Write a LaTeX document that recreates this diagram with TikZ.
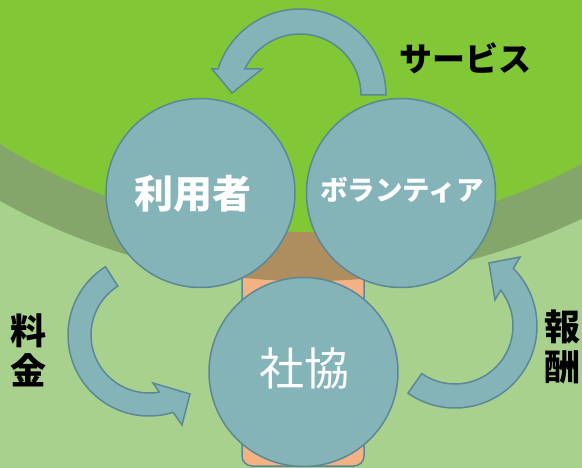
\documentclass[tikz,border=0pt]{standalone}
\usepackage{fontspec}
\newfontfamily\jp{Noto Sans CJK JP}
\usetikzlibrary{calc}
\definecolor{bgLight}{HTML}{A9D18E}
\definecolor{bgBright}{HTML}{82C836}
\definecolor{bgBand}{HTML}{84A66A}
\definecolor{trunkOrange}{HTML}{F4B183}
\definecolor{trunkBrown}{HTML}{AE8D5E}
\definecolor{bubbleFill}{HTML}{84B3B8}
\definecolor{bubbleLine}{HTML}{5B8896}
\begin{document}
\begin{tikzpicture}[x=1pt,y=1pt,
  bubble/.style={circle, fill=bubbleFill, draw=bubbleLine, line width=1.5pt, minimum size=189pt, inner sep=0pt},
  cyclearrow/.style={fill=bubbleFill, draw=bubbleLine, line width=1.5pt, line join=miter},
  whitetext/.style={text=white, inner sep=0pt},
  blacktext/.style={text=black, inner sep=0pt, align=center},
]
\useasboundingbox (0,0) rectangle (582,-468);
\clip (0,0) rectangle (582,-468);
% background
\fill[bgLight] (0,0) rectangle (582,-468);
\coordinate (G) at (308,350);
% trunk
\path[fill=trunkOrange, draw=bubbleLine, line width=1.5pt, rounded corners=10pt] (242,-200) rectangle (364,-466);
% band and crown
\fill[bgBand] (G) circle[radius=631];
\begin{scope}
  \clip (G) circle[radius=631];
  \fill[trunkBrown] (242,-200) rectangle (364,-466);
\end{scope}
\fill[bgBright] (G) circle[radius=582];

% circles
\node[bubble] (user) at (200.5,-193) {};
\node[bubble] (vol) at (401,-193) {};
\node[bubble] (shakyo) at (303.5,-372) {};

\node[whitetext, font=\jp\bfseries\fontsize{39}{39}\selectfont] (userlabel) at (193,-194) {利用者};
\node[whitetext, font=\jp\bfseries\fontsize{27.5}{27.5}\selectfont] (vollabel) at (402,-190) {ボランティア};
\node[whitetext, font=\jp\fontsize{45}{45}\selectfont] (shakyolabel) at (304.5,-368) {社協};

% arrows
\coordinate (T) at (300,-95);
\coordinate (L) at (149,-335);
\coordinate (R) at (455,-326);

\path[cyclearrow] ($(T)+(0:86)$) arc[start angle=0, end angle=162.4, radius=86]
  -- ($(T)+(163.5:91.8)$) -- ($(T)+(178.3:68)$) -- ($(T)+(145.6:46)$)
  -- ($(T)+(154.7:61)$) arc[start angle=154.7, end angle=0, radius=61] -- cycle;

\path[cyclearrow] ($(L)+(122.5:81)$) arc[start angle=122.5, end angle=287.3, radius=81]
  -- (182,-425) -- (190,-394) -- (153,-383)
  -- ($(L)+(280.2:58)$) arc[start angle=280.2, end angle=122.5, radius=58] -- cycle;

\path[cyclearrow] ($(R)+(235:82)$) arc[start angle=235, end angle=404.6, radius=82]
  -- (520,-257) -- (489,-263) -- (495,-300)
  -- ($(R)+(38.1:58)$) arc[start angle=398.1, end angle=235, radius=58] -- cycle;

% labels
\node[blacktext, font=\jp\bfseries\fontsize{33}{33}\selectfont] (service) at (465,-58) {サービス};
\node[blacktext, font=\jp\bfseries\fontsize{36}{40}\selectfont] (fee) at (28.5,-350) {料\\金};
\node[blacktext, font=\jp\bfseries\fontsize{36}{40}\selectfont] (reward) at (562,-347) {報\\酬};
\end{tikzpicture}
\end{document}
